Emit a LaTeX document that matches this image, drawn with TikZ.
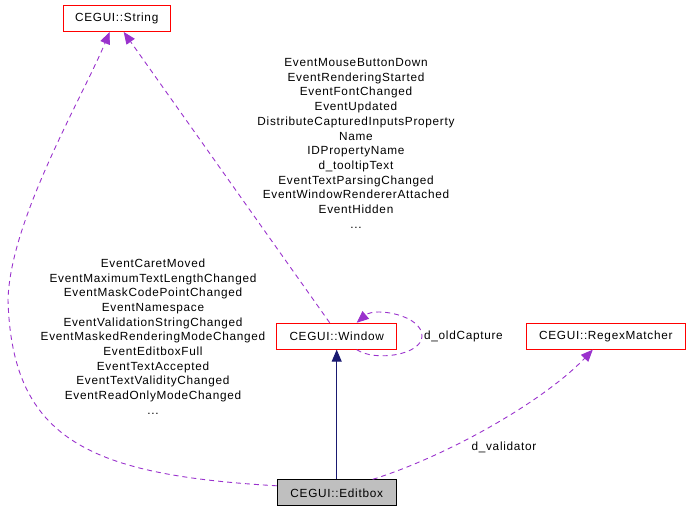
\documentclass[tikz,border=0pt]{standalone}
\usepackage{fontspec}
\usepackage{tikz}
\usetikzlibrary{arrows.meta, calc}
\newfontfamily\dotfont{Liberation Sans}[LetterSpace=6]
\definecolor{edgepurple}{HTML}{9A32CD}
\definecolor{edgenavy}{HTML}{191970}
\definecolor{boxgrey}{HTML}{BFBFBF}

\begin{document}
\begin{tikzpicture}[x=1pt, y=-1pt,
    txt/.style={font={\dotfont\fontsize{11.8}{14.7}\selectfont}},
    cls/.style={txt, draw=red, line width=0.9pt, fill=white, inner sep=0pt,
      minimum height=26pt},
    cur/.style={cls, draw=black, fill=boxgrey},
    inh/.style={draw=edgenavy, line width=0.9pt, -{Triangle[length=12pt,width=10pt]}},
    coll/.style={draw=edgepurple, line width=0.9pt, dash pattern=on 5pt off 4pt,
      -{Triangle[length=12pt,width=10pt]}},
    lbl/.style={txt, align=center, inner sep=0pt}]
        \useasboundingbox (0,0) rectangle (691,512);

        % Classes
        \node[cls, minimum width=106.7pt] (str) at (116.7,18.5) {CEGUI::String};
        \node[cls, minimum width=120pt] (win) at (336.7,336.2) {CEGUI::Window};
        \node[cls, minimum width=158.3pt] (rgx) at (605.8,336.2) {CEGUI::RegexMatcher};
        \node[cur, minimum width=118.7pt] (edit) at (336.7,492.8) {CEGUI::Editbox};

        % Inheritance
        \draw[inh] (edit.north) -- (win.south);

        % Usage relations
        \draw[coll] ([xshift=-7pt]win.north) -- ([xshift=7pt]str.south);
        \draw[coll] ([yshift=7pt]edit.west) .. controls (90,475) and (12,440) .. (8,300)
            .. controls (10,220) and (82,98) .. ([xshift=-7pt]str.south);
        \draw[coll] ([xshift=20pt]win.south) .. controls (375,362) and (422,355) .. (422,336)
            .. controls (422,315) and (375,307) .. ([xshift=20pt]win.north);
        \draw[coll] ([xshift=36pt]edit.north) .. controls (450,455) and (545,400)
            .. ([xshift=-13pt]rgx.south);

        % Edge labels
        \node[lbl] (winlbl) at (356,143.3) {EventMouseButtonDown\\EventRenderingStarted\\
            EventFontChanged\\EventUpdated\\DistributeCapturedInputsProperty\\Name\\
            IDPropertyName\\d\_tooltipText\\EventTextParsingChanged\\
            EventWindowRendererAttached\\EventHidden\\...};
        \node[lbl] (editlbl) at (153,336.6) {EventCaretMoved\\EventMaximumTextLengthChanged\\
            EventMaskCodePointChanged\\EventNamespace\\EventValidationStringChanged\\
            EventMaskedRenderingModeChanged\\EventEditboxFull\\EventTextAccepted\\
            EventTextValidityChanged\\EventReadOnlyModeChanged\\...};
        \node[lbl] (caplbl) at (463.5,336) {d\_oldCapture};
        \node[lbl] (vallbl) at (504,447) {d\_validator};
    \end{tikzpicture}
\end{document}
